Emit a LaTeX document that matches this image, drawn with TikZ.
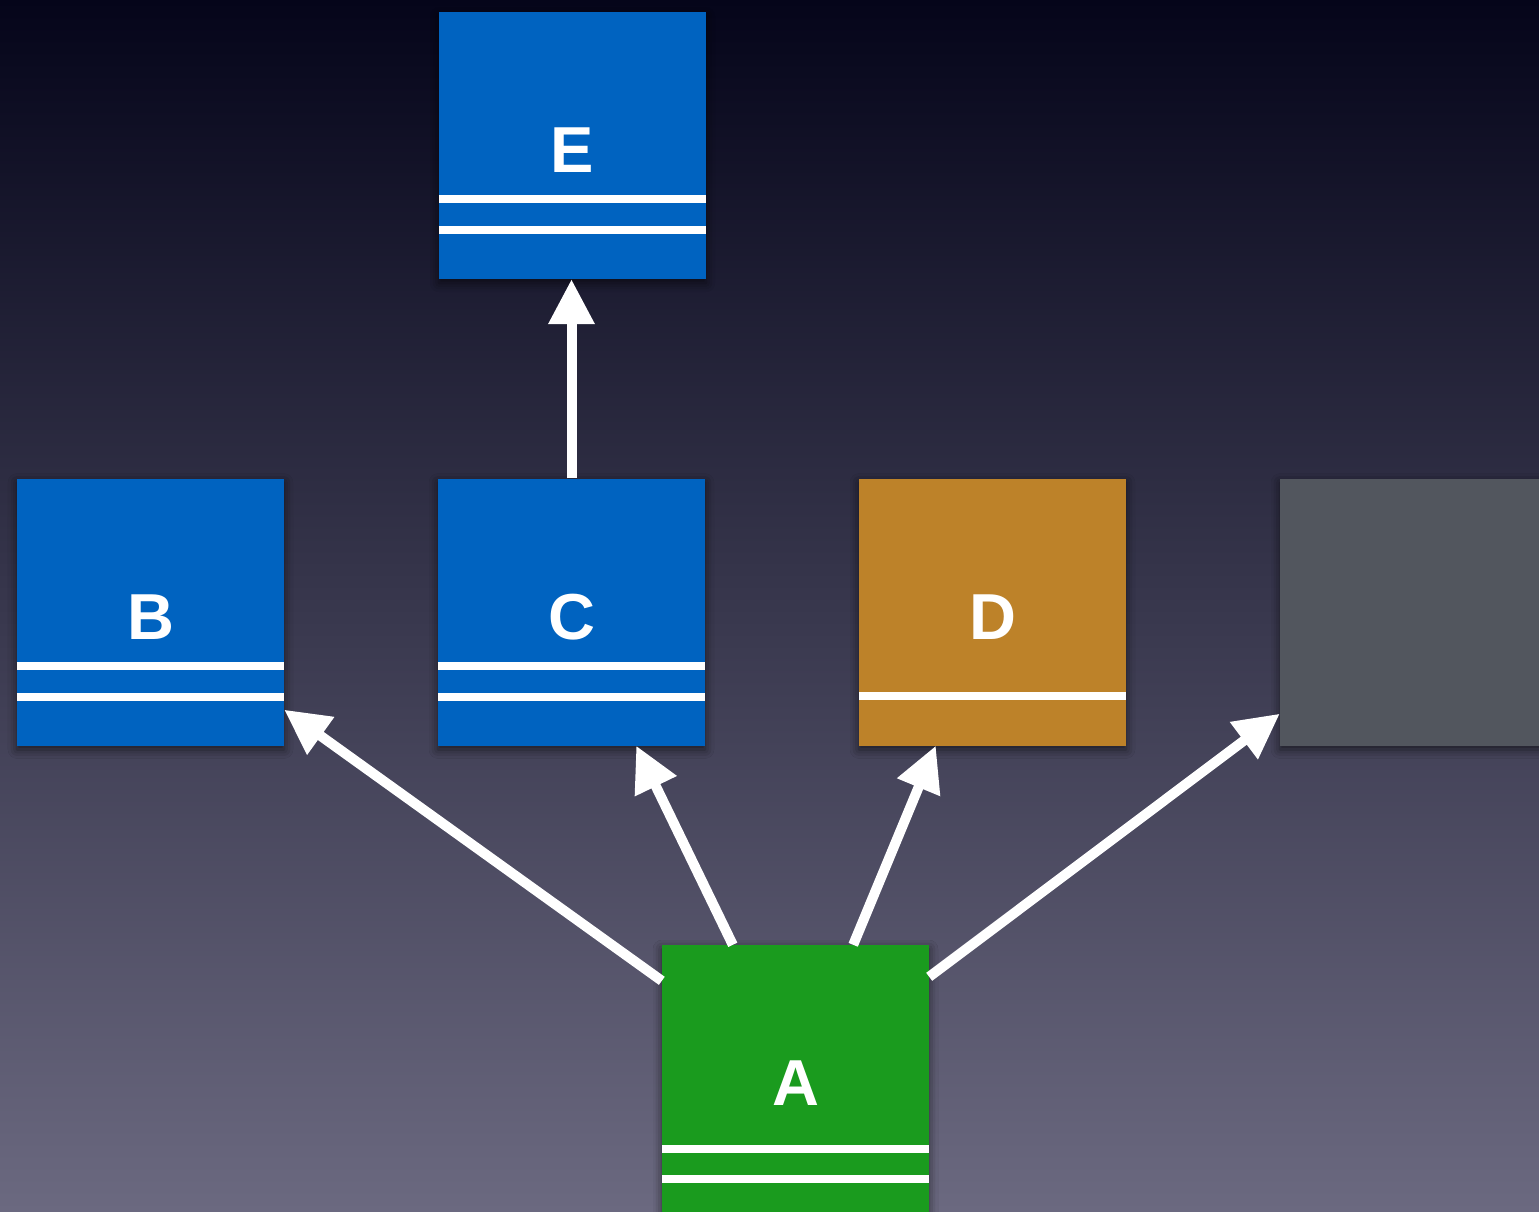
\documentclass[tikz,border=0pt]{standalone}
\usepackage{fontspec}
\setmainfont{Liberation Sans}
\usetikzlibrary{arrows.meta,shadows.blur}
\definecolor{bgtop}{HTML}{05051A}
\definecolor{bgbot}{HTML}{6B6980}
\definecolor{cblue}{HTML}{0063C0}
\definecolor{cgreen}{HTML}{1A9B1E}
\definecolor{cbrown}{HTML}{BD8229}
\definecolor{cgray}{HTML}{52565E}
\tikzset{
  cls/.style={rectangle, inner sep=0pt, minimum width=267pt, minimum height=267pt,
    text=white, font=\fontsize{65}{78}\selectfont\bfseries, text height=54pt, text depth=0pt,
    blur shadow={shadow xshift=0pt, shadow yshift=-4pt, shadow blur radius=9pt, shadow opacity=60}},
  sepline/.style={white, line width=8pt, line cap=butt},
  link/.style={white, line width=10pt, -{Triangle[width=44pt,length=45pt]}}
}
\begin{document}
\begin{tikzpicture}[x=1pt,y=-1pt]
\useasboundingbox (0,0) rectangle (1539,1211);
\shade[top color=bgtop, bottom color=bgbot] (0,0) rectangle (1539,1211);
\node[cls, fill=cblue] (E) at (572.5,145.5) {E};
\node[cls, fill=cblue] (B) at (150.5,612) {B};
\node[cls, fill=cblue] (C) at (571.5,612) {C};
\node[cls, fill=cbrown] (D) at (992.5,612) {D};
\node[cls, fill=cgray] (G) at (1413.5,612) {};
\node[cls, fill=cgreen] (A) at (795.5,1078.5) {A};
% separators
\draw[sepline] ([yshift=80pt]E.south west) -- ([yshift=80pt]E.south east);
\draw[sepline] ([yshift=49pt]E.south west) -- ([yshift=49pt]E.south east);
\draw[sepline] ([yshift=80pt]B.south west) -- ([yshift=80pt]B.south east);
\draw[sepline] ([yshift=49pt]B.south west) -- ([yshift=49pt]B.south east);
\draw[sepline] ([yshift=80pt]C.south west) -- ([yshift=80pt]C.south east);
\draw[sepline] ([yshift=49pt]C.south west) -- ([yshift=49pt]C.south east);
\draw[sepline] ([yshift=50pt]D.south west) -- ([yshift=50pt]D.south east);
\draw[sepline] ([yshift=-204pt]A.north west) -- ([yshift=-204pt]A.north east);
\draw[sepline] ([yshift=-234pt]A.north west) -- ([yshift=-234pt]A.north east);
% connectors
\draw[link] (C.north) -- (C.north |- E.south);
\draw[link] ([yshift=-36pt]A.north west) -- ([yshift=36pt]B.south east);
\draw[link] ([xshift=71pt]A.north west) -- ([xshift=-69pt]C.south east);
\draw[link] ([xshift=-76pt]A.north east) -- ([xshift=77pt]D.south west);
\draw[link] ([yshift=-32pt]A.north east) -- ([yshift=32pt]G.south west);
\end{tikzpicture}
\end{document}
